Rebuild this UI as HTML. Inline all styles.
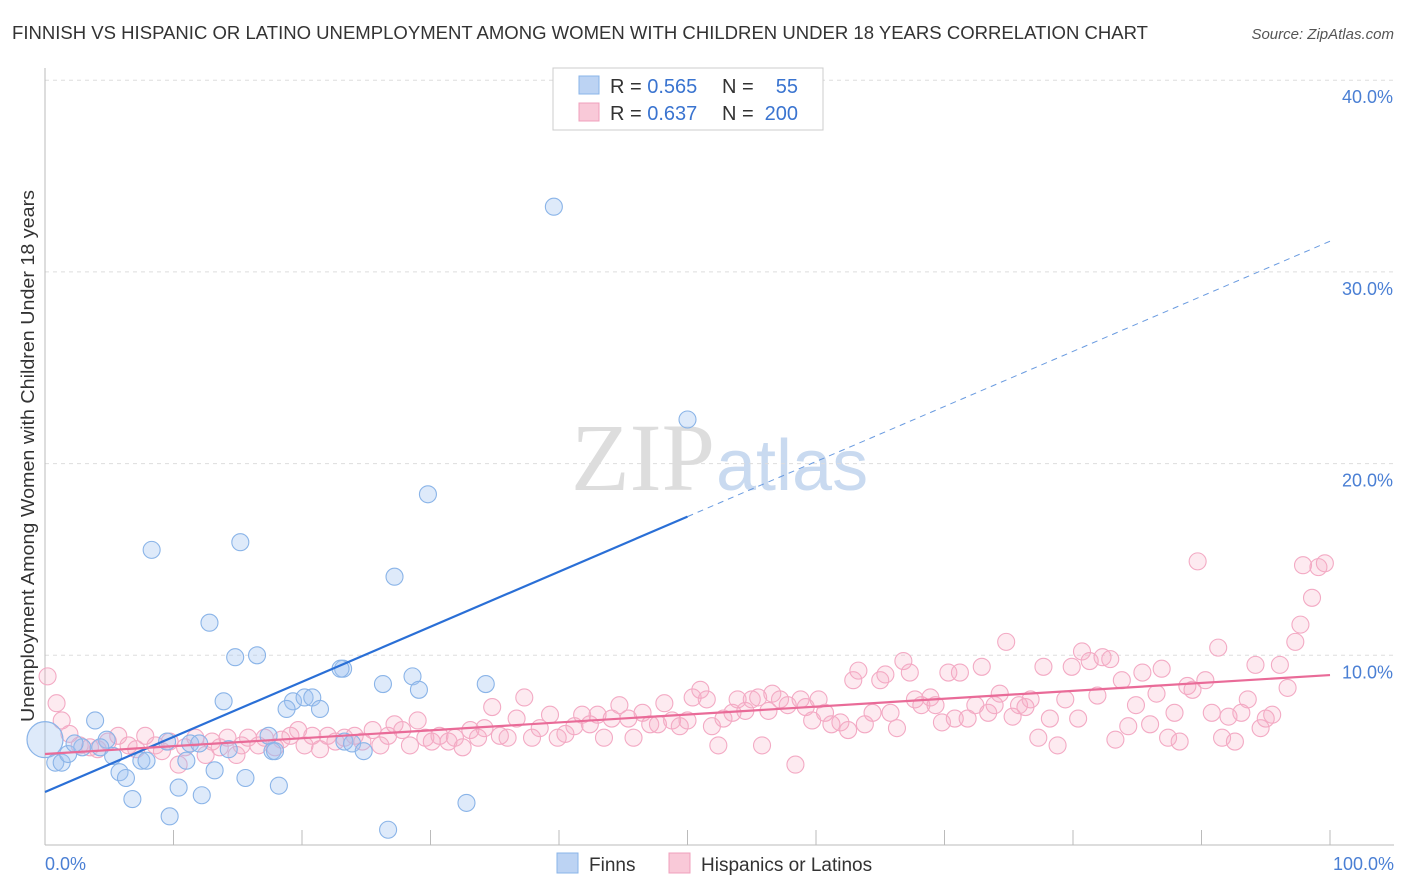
<!DOCTYPE html>
<html><head><meta charset="utf-8">
<style>
body{margin:0;background:#fff;font-family:"Liberation Sans",sans-serif;}
#wrap{position:relative;width:1406px;height:892px;overflow:hidden;}
</style></head>
<body><div id="wrap">
<svg id="svg" width="1406" height="892" xmlns="http://www.w3.org/2000/svg">
<text x="12" y="39" font-size="18.5" fill="#333" textLength="1136" lengthAdjust="spacingAndGlyphs">FINNISH VS HISPANIC OR LATINO UNEMPLOYMENT AMONG WOMEN WITH CHILDREN UNDER 18 YEARS CORRELATION CHART</text>
<text x="1394" y="39" font-size="15" fill="#555" font-style="italic" text-anchor="end">Source: ZipAtlas.com</text>
<text x="715" y="490" font-size="96" fill="#ddd" text-anchor="end" font-family="Liberation Serif,serif">ZIP</text>
<text x="716" y="490" font-size="72" fill="#c9daf0">atlas</text>
<g id="grid"></g><g id="axes"></g><g id="pts"></g><g id="lines"></g>
<text x="34" y="456" font-size="18.5" fill="#333" text-anchor="middle" transform="rotate(-90 34 456)" textLength="532" lengthAdjust="spacingAndGlyphs">Unemployment Among Women with Children Under 18 years</text>
<text x="45" y="870" font-size="18" fill="#4a7fd4">0.0%</text>
<text x="1394" y="870" font-size="18" fill="#4a7fd4" text-anchor="end">100.0%</text>
<g>
<rect x="553" y="68" width="270" height="62" fill="#fff" stroke="#ccc"/>
<rect x="579" y="76" width="20" height="18" fill="#bcd3f3" stroke="#8ab4e8"/>
<rect x="579" y="103" width="20" height="18" fill="#f9c9d8" stroke="#f0a0bc"/>
<text x="610" y="93" font-size="20" fill="#333">R = <tspan fill="#3a74d0">0.565</tspan></text>
<text x="722" y="93" font-size="20" fill="#333">N = </text><text x="798" y="93" font-size="20" fill="#3a74d0" text-anchor="end">55</text>
<text x="610" y="120" font-size="20" fill="#333">R = <tspan fill="#3a74d0">0.637</tspan></text>
<text x="722" y="120" font-size="20" fill="#333">N = </text><text x="798" y="120" font-size="20" fill="#3a74d0" text-anchor="end">200</text>
</g>
<g>
<rect x="557" y="853" width="21" height="20" fill="#bcd3f3" stroke="#8ab4e8"/>
<text x="589" y="871" font-size="19" fill="#333">Finns</text>
<rect x="669" y="853" width="21" height="20" fill="#f9c9d8" stroke="#f0a0bc"/>
<text x="701" y="871" font-size="19" fill="#333">Hispanics or Latinos</text>
</g>
</svg></div>
<script>
const yTicks=[10,20,30,40];
const xTicks=[0,10,20,30,40,50,60,70,80,90,100];
const blueX=[39.6,50.0,29.8,8.3,15.2,27.2,12.8,14.8,16.5,23.2,23.0,26.3,28.6,29.1,34.3,13.9,19.3,20.2,20.8,21.4,18.8,3.9,4.8,9.5,11.3,12.0,14.3,17.4,17.7,17.9,23.3,23.9,24.8,0.8,1.3,1.8,2.9,4.3,2.3,5.3,7.5,7.9,11.0,5.8,6.3,13.2,15.6,18.2,10.4,6.8,12.2,9.7,26.7,32.8];
const blueY=[33.4,22.3,18.4,15.5,15.9,14.1,11.7,9.9,10.0,9.3,9.3,8.5,8.9,8.2,8.5,7.6,7.6,7.8,7.8,7.2,7.2,6.6,5.6,5.5,5.4,5.4,5.1,5.8,5.0,5.0,5.5,5.4,5.0,4.4,4.4,4.85,5.2,5.2,5.4,4.75,4.5,4.5,4.5,3.9,3.6,4.0,3.6,3.2,3.1,2.5,2.7,1.6,0.9,2.3];
const pinkX=[0.2,0.9,1.3,1.9,2.7,3.5,4.1,4.9,5.7,6.5,7.1,7.8,8.6,9.1,9.7,10.4,10.9,11.7,12.5,13.0,13.6,14.2,14.9,15.3,15.8,16.6,17.1,17.9,18.4,19.1,19.7,20.2,20.8,21.4,22.0,22.6,23.3,24.1,24.7,25.5,26.1,26.7,27.2,27.8,28.4,29.0,29.6,30.1,30.7,31.4,31.9,32.5,33.1,33.7,34.2,34.8,35.4,36.0,36.7,37.3,37.9,38.5,39.3,39.9,40.5,41.2,41.8,42.4,43.0,43.5,44.1,44.7,45.4,45.8,46.5,47.1,47.7,48.2,48.8,49.4,50.0,50.4,51.0,51.5,51.9,52.4,52.8,53.5,53.9,54.5,55.0,55.5,55.8,56.3,56.6,57.2,57.8,58.4,58.8,59.2,59.7,60.2,60.7,61.2,61.9,62.5,62.9,63.3,63.8,64.4,65.0,65.4,65.8,66.3,66.8,67.3,67.7,68.2,68.9,69.3,69.8,70.3,70.8,71.2,71.8,72.4,72.9,73.4,73.9,74.3,74.8,75.3,75.8,76.3,76.7,77.3,77.7,78.2,78.8,79.4,79.9,80.4,80.7,81.3,81.9,82.3,82.9,83.3,83.8,84.3,84.9,85.4,86.0,86.5,86.9,87.4,87.9,88.3,88.9,89.3,89.7,90.3,90.8,91.3,91.6,92.1,92.6,93.1,93.6,94.2,94.6,95.0,95.5,96.1,96.7,97.3,97.7,97.9,98.6,99.1,99.6];
const pinkY=[8.9,7.5,6.6,5.9,5.3,5.2,5.1,5.5,5.8,5.3,5.1,5.8,5.3,5.0,5.5,4.3,5.2,5.7,4.8,5.5,5.2,5.7,4.8,5.3,5.7,5.3,5.7,5.2,5.6,5.8,6.1,5.3,5.8,5.1,5.8,5.5,5.7,5.8,5.5,6.1,5.3,5.8,6.4,6.1,5.3,6.6,5.7,5.5,5.8,5.5,5.7,5.2,6.1,5.7,6.2,7.3,5.8,5.7,6.7,7.8,5.7,6.2,6.9,5.7,5.9,6.3,6.9,6.4,6.9,5.7,6.7,7.4,6.7,5.7,7.0,6.4,6.4,7.5,6.6,6.3,6.6,7.8,8.2,7.7,6.3,5.3,6.7,7.0,7.7,7.1,7.7,7.8,5.3,7.1,8.0,7.7,7.4,4.3,7.7,7.3,6.6,7.7,7.0,6.4,6.5,6.1,8.7,9.2,6.4,7.0,8.7,9.0,7.0,6.2,9.7,9.1,7.7,7.4,7.8,7.4,6.5,9.1,6.7,9.1,6.7,7.4,9.4,7.0,7.4,8.0,10.7,6.8,7.4,7.3,7.7,5.7,9.4,6.7,5.3,7.7,9.4,6.7,10.2,9.7,7.9,9.9,9.8,5.6,8.7,6.3,7.4,9.1,6.4,8.0,9.3,5.7,7.0,5.5,8.4,8.2,14.9,8.7,7.0,10.4,5.7,6.8,5.5,7.0,7.7,9.5,6.2,6.7,6.9,9.5,8.3,10.7,11.6,14.7,13.0,14.6,14.8];
const blueFit=[2.87,31.6];
const pinkFit=[4.85,8.97];
const X0=45,X1=1330,YB=847,PX=19.17;
const sx=v=>X0+(X1-X0)*v/100, sy=v=>YB-v*PX;
const NS="http://www.w3.org/2000/svg";
function mk(p,t,a){const e=document.createElementNS(NS,t);for(const k in a)e.setAttribute(k,a[k]);p.appendChild(e);return e;}
const grid=document.getElementById('grid'),axes=document.getElementById('axes'),pts=document.getElementById('pts'),lines=document.getElementById('lines');
yTicks.forEach(v=>{
 const l=mk(grid,'line',{x1:45,x2:1394,y1:sy(v),y2:sy(v),stroke:'#ddd','stroke-dasharray':'4,4'});
 
 
 const t=mk(grid,'text',{x:1393,y:sy(v)+23,'font-size':18,fill:'#4a7fd4','text-anchor':'end'});t.textContent=v.toFixed(1)+'%';
 
 
});
const ax=mk(axes,'line',{x1:45,x2:45,y1:68,y2:845,stroke:'#bbb'});


const bx=mk(axes,'line',{x1:45,x2:1394,y1:845,y2:845,stroke:'#bbb'});


xTicks.forEach(v=>{const t=mk(axes,'line',{x1:sx(v),x2:sx(v),y1:830,y2:845,stroke:'#bbb'});
 
 });
pinkX.forEach((x,i)=>{const c=mk(pts,'circle',{cx:sx(x),cy:sy(pinkY[i]),r:8.5,fill:'rgba(247,170,196,0.25)',stroke:'#f3aac4','stroke-width':1.1});
 
 });
const big=mk(pts,'circle',{cx:sx(0),cy:sy(5.6),r:18,fill:'rgba(160,196,240,0.35)',stroke:'#8ab4e8','stroke-width':1.2});


blueX.forEach((x,i)=>{const c=mk(pts,'circle',{cx:sx(x),cy:sy(blueY[i]),r:8.5,fill:'rgba(160,196,240,0.35)',stroke:'#8ab4e8','stroke-width':1.1});
 
 });
const bm=blueFit[0]+(blueFit[1]-blueFit[0])*0.5;
const b1=mk(lines,'line',{x1:sx(0),y1:sy(blueFit[0]),x2:sx(50),y2:sy(bm),stroke:'#2a6fd6','stroke-width':2.2});


const b2=mk(lines,'line',{x1:sx(50),y1:sy(bm),x2:sx(100),y2:sy(blueFit[1]),stroke:'#6a9be0','stroke-width':1,'stroke-dasharray':'6,5'});


const p1=mk(lines,'line',{x1:sx(0),y1:sy(pinkFit[0]),x2:sx(100),y2:sy(pinkFit[1]),stroke:'#e96b98','stroke-width':2.2});


</script>
</body></html>
